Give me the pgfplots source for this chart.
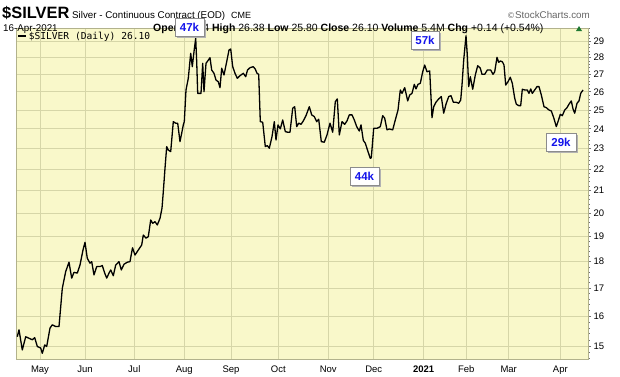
\documentclass[border=0pt]{standalone}
\usepackage{pgfplots}
\pgfplotsset{compat=1.18}
\usepackage{fontspec}
\setmainfont{Liberation Sans}
\newfontfamily\djv{DejaVu Sans}
\newfontfamily\djvm{DejaVu Sans Mono}
\definecolor{plotbg}{RGB}{249,248,202}
\definecolor{gridc}{RGB}{214,214,168}
\definecolor{framec}{RGB}{178,178,140}
\definecolor{annblue}{RGB}{20,20,235}
\definecolor{trgreen}{RGB}{30,120,50}
\begin{document}
\begin{tikzpicture}
\useasboundingbox (0pt,0pt) rectangle (620pt,376pt);
\fill[white] (0pt,0pt) rectangle (620pt,376pt);
\begin{axis}[
  at={(16pt,17pt)}, anchor=south west,
  scale only axis, width=572pt, height=331pt,
  xmin=0, xmax=572, ymode=log, ymin=14.58, ymax=29.85,
  axis background/.style={fill=plotbg},
  axis line style={draw=framec, line width=0.8pt},
  xtick={24,69,118.3,168.3,215,262.3,312.3,357.7,407.7,450.3,492.7,544.3},
  xticklabels={May,Jun,Jul,Aug,Sep,Oct,Nov,Dec,\textbf{2021},Feb,Mar,Apr},
  ytick={15,16,17,18,19,20,21,22,23,24,25,26,27,28,29},
  yticklabels={15,16,17,18,19,20,21,22,23,24,25,26,27,28,29},
  minor ytick={14.6,14.8,15.2,15.4,15.6,15.8,16.2,16.4,16.6,16.8,17.2,17.4,17.6,17.8,18.2,18.4,18.6,18.8,19.2,19.4,19.6,19.8,20.2,20.4,20.6,20.8,21.2,21.4,21.6,21.8,22.2,22.4,22.6,22.8,23.2,23.4,23.6,23.8,24.2,24.4,24.6,24.8,25.2,25.4,25.6,25.8,26.2,26.4,26.6,26.8,27.2,27.4,27.6,27.8,28.2,28.4,28.6,28.8,29.2,29.4,29.6,29.8},
  xmajorgrids, ymajorgrids, grid style={draw=gridc, line width=0.6pt},
  xtick pos=bottom, ytick pos=right, yticklabel pos=right,
  tick align=outside, major tick length=3pt, minor tick length=1.5pt,
  xtick style={draw=none},
  ytick style={draw=black!55, line width=0.5pt},
  /pgf/number format/assume math mode=true,
  every tick label/.append style={font=\fontsize{9.5}{10}\selectfont, text=black},
  yticklabel style={anchor=west, xshift=-1pt},
  legend style={at={(0,1)}, anchor=north west, draw=none, fill=none,
    font=\djvm\fontsize{9.6}{10}\selectfont, inner xsep=1pt, inner ysep=1.5pt},
  legend cell align=left,
  legend image code/.code={\draw[line width=1.6pt,black] (0pt,0pt) -- (8pt,0pt);},
]
\addplot[black, line width=1.3pt, line join=round] coordinates {
(1.3,15.30)(3,15.53)(6.3,14.87)(9.7,15.30)(13,15.25)(16.3,15.20)(18.7,15.27)(21.3,14.98)(24.7,14.93)(26.3,14.76)(28.7,15.03)(30.7,14.98)(34,15.59)(36.3,15.70)(39.7,15.64)(43,15.64)(46.3,16.99)(49.7,17.62)(53,17.98)(55.7,17.37)(58,17.59)(61.3,17.56)(64,17.87)(67,18.46)(69,18.77)(71.3,18.13)(74,17.94)(75.7,18.00)(78,17.49)(80.7,17.81)(84,17.81)(86.3,17.85)(88.7,17.56)(90.7,17.37)(93,17.56)(94.7,17.68)(97.3,17.46)(99.7,17.87)(103,18.00)(105.3,17.68)(108,17.90)(111.3,17.98)(114,18.00)(116.5,18.55)(119,18.26)(122.3,18.46)(125.7,18.66)(127.3,19.07)(130,18.94)(132.3,19.00)(134.7,19.70)(136.7,19.56)(139,19.63)(141.3,19.49)(144,19.77)(146,20.21)(147.3,20.94)(149,22.03)(150.7,23.09)(152.3,22.92)(154.7,22.84)(157.3,24.37)(159.7,24.29)(161.7,24.29)(164,23.34)(165.7,23.77)(167.3,24.20)(168.3,24.37)(170,26.10)(172.3,26.77)(174.7,28.26)(176.3,27.45)(178,28.36)(179.7,29.19)(180.7,27.75)(181.7,25.91)(185,25.91)(186.7,27.65)(188,26.00)(190,27.65)(191.7,27.79)(194,27.99)(195.7,27.25)(198,27.06)(200,26.67)(202.3,26.57)(204,26.23)(205.7,27.36)(208,26.96)(210.7,27.75)(213,28.46)(214.7,28.52)(216.7,27.45)(219,27.06)(221.3,26.77)(224,26.92)(227.3,27.06)(229.7,26.86)(231.5,27.25)(234,27.39)(237.3,27.45)(239.3,27.30)(241,27.06)(242.7,27.00)(244.3,24.37)(246.7,24.34)(249.3,23.09)(251.3,23.14)(253.3,23.01)(256,23.59)(258.3,24.37)(260,23.42)(262,24.20)(264.3,23.99)(266.7,24.46)(269.3,23.85)(271.7,23.82)(274,23.82)(276.7,25.09)(278.7,25.17)(280.7,24.11)(282.7,24.29)(285,24.23)(287.3,24.41)(290,24.69)(293.3,25.17)(295.7,24.73)(298.3,24.64)(300.7,24.37)(302.7,24.50)(305.3,23.34)(308.3,23.31)(311,23.68)(314,24.29)(316.7,23.82)(319.3,25.45)(321.3,25.60)(323.3,23.68)(326,24.37)(328.7,24.23)(331,24.41)(333.3,24.73)(336,24.73)(338.3,24.46)(340.7,24.11)(343.3,23.88)(345,24.20)(347.3,23.40)(349.3,23.26)(352,22.84)(354.3,22.51)(355.3,22.54)(357.7,24.02)(361,24.02)(364.3,24.11)(366.7,24.69)(368.7,24.55)(371,23.94)(373.3,23.99)(376.7,23.94)(379.3,24.46)(382,24.99)(384.3,26.10)(386,25.91)(388.7,26.23)(390,25.91)(391.7,25.49)(393.7,25.82)(396,25.91)(398.3,26.42)(400,26.16)(402,26.42)(404.3,26.48)(406.7,27.15)(408.7,27.55)(411,27.15)(413.7,27.20)(416,24.58)(417.7,25.17)(420,25.42)(422.7,25.60)(425.3,25.73)(427.7,24.82)(430,25.31)(432.7,25.73)(435,25.78)(437.3,25.42)(440,25.42)(442.7,25.36)(444.7,25.54)(446,26.38)(447.7,27.85)(450,29.35)(451.3,28.15)(452.7,26.29)(454.3,26.86)(456.7,26.14)(459.3,26.96)(461.7,27.51)(464.3,27.36)(466,27.00)(468.7,27.00)(471.3,27.25)(474.7,27.25)(477,27.00)(478.7,27.15)(481,28.01)(482.7,27.71)(484.3,27.79)(486.3,27.75)(488,27.55)(489.7,26.38)(492,26.57)(494.3,26.83)(496.3,26.48)(498.7,25.64)(500.3,25.31)(502.7,25.23)(504.7,25.23)(506.3,26.14)(508.7,26.10)(511.3,26.10)(513,25.91)(514.7,26.16)(516.3,25.91)(518.7,26.10)(521,26.29)(523,26.29)(525.3,25.82)(528,25.17)(530.3,25.12)(533,24.99)(535.3,24.94)(537.7,24.58)(540.3,24.11)(542,24.37)(544.3,24.76)(546.3,24.69)(548.7,24.99)(551,25.12)(553,25.31)(555.3,25.49)(557,25.05)(558.7,24.82)(561,25.36)(563,25.49)(564.7,25.91)(567,26.10)
};
\addlegendentry{\$SILVER (Daily) 26.10}
\end{axis}
% header
\node[anchor=base west, inner sep=0pt, font=\bfseries\fontsize{16.4}{17}\selectfont] at (2pt,358pt) {\$SILVER};
\node[anchor=base west, inner sep=0pt, font=\fontsize{9.8}{11}\selectfont] at (72pt,358pt) {Silver - Continuous Contract (EOD)};
\node[anchor=base west, inner sep=0pt, font=\fontsize{9}{10}\selectfont] at (231pt,358pt) {CME};
\node[anchor=base east, inner sep=0pt, text=black!60, font=\fontsize{9.8}{11}\selectfont] at (590pt,358pt) {{\djv\fontsize{8}{9}\selectfont ©}StockCharts.com};
\node[anchor=base west, inner sep=0pt, font=\fontsize{9.8}{11}\selectfont] at (3pt,345pt) {16-Apr-2021};
\node[anchor=base west, inner sep=0pt, font=\fontsize{10.5}{12}\selectfont] at (153pt,345pt) {\textbf{Open} 26.24 \textbf{High} 26.38 \textbf{Low} 25.80 \textbf{Close} 26.10 \textbf{Volume} 5.4M \textbf{Chg} +0.14 (+0.54\%)};
\fill[trgreen] (576pt,345pt) -- (582pt,345pt) -- (579pt,350pt) -- cycle;
% volume annotations
\foreach \xa/\ya/\xb/\yb/\t in {175/340/204/358/47k, 411/327/439/345/57k, 350/191/379/209/44k, 546/225/576/243/29k}{
  \fill[black!30] (\xa pt+2pt,\ya pt-2pt) rectangle (\xb pt+2pt,\yb pt-2pt);
  \filldraw[fill=white, draw=black!45, line width=0.6pt] (\xa pt,\ya pt) rectangle (\xb pt,\yb pt);
  \node[font=\bfseries\fontsize{11.5}{12}\selectfont, text=annblue, inner sep=0pt] at ({(\xa+\xb)/2*1pt},{(\ya+\yb)/2*1pt}) {\t};
}
\end{tikzpicture}
\end{document}
